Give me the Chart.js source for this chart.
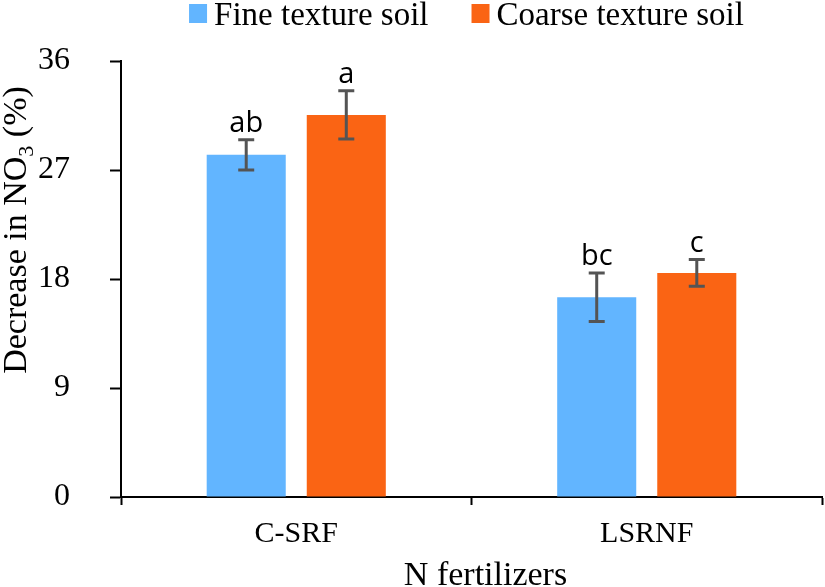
<!DOCTYPE html>
<html lang="en">
<head>
<meta charset="UTF-8">
<title>Decrease in NO3 by N fertilizer</title>
<script src="https://cdn.jsdelivr.net/npm/chart.js@4.4.0/dist/chart.umd.min.js"></script>
<style>
    html, body { margin: 0; padding: 0; background: #fff; }
    #wrap { width: 825px; height: 587px; position: relative; }
</style>
</head>
<body>
<div id="wrap"><canvas id="no3Chart"></canvas></div>
<script>
    // values
    const categories = ['C-SRF', 'LSRNF'];
    const seriesNames = ['Fine texture soil', 'Coarse texture soil'];
    const fineValues = [28.25, 16.5];
    const coarseValues = [31.55, 18.5];
    const fineErrors = [1.25, 2.0];
    const coarseErrors = [2.0, 1.1];
    const fineLetters = ['ab', 'bc'];
    const coarseLetters = ['a', 'c'];
    const yTicks = [0, 9, 18, 27, 36];
    const xTitle = 'N fertilizers';

    const SERIF = '"Liberation Serif", "Times New Roman", serif';
    const SANS = '"Open Sans", "Noto Sans", sans-serif';
    const colors = ['#62b5ff', '#fa6414'];
    const errorsBySeries = [fineErrors, coarseErrors];
    const lettersBySeries = [fineLetters, coarseLetters];

    // error bars + significance letters
    const errorBarPlugin = {
        id: 'errorBars',
        afterDatasetsDraw(chart) {
            const ctx = chart.ctx;
            const y = chart.scales.y;
            ctx.save();
            chart.data.datasets.forEach(function(ds, i) {
                const meta = chart.getDatasetMeta(i);
                meta.data.forEach(function(bar, j) {
                    const v = ds.data[j];
                    const e = errorsBySeries[i][j];
                    const top = y.getPixelForValue(v + e);
                    const bot = y.getPixelForValue(v - e);
                    ctx.strokeStyle = '#545454';
                    ctx.lineWidth = 3;
                    ctx.beginPath();
                    ctx.moveTo(bar.x, top);
                    ctx.lineTo(bar.x, bot);
                    ctx.moveTo(bar.x - 8, top);
                    ctx.lineTo(bar.x + 8, top);
                    ctx.moveTo(bar.x - 8, bot);
                    ctx.lineTo(bar.x + 8, bot);
                    ctx.stroke();

                    ctx.fillStyle = '#000';
                    ctx.font = '29px ' + SANS;
                    ctx.textAlign = 'center';
                    ctx.textBaseline = 'alphabetic';
                    ctx.fillText(lettersBySeries[i][j], bar.x, top - 8);
                });
            });
            ctx.restore();
        }
    };

    // legend, x title and y title (with subscript) drawn on the canvas
    const annotatePlugin = {
        id: 'annotate',
        afterDraw(chart) {
            const ctx = chart.ctx;
            const area = chart.chartArea;
            const mid = (area.left + area.right) / 2;
            ctx.save();

            // legend
            ctx.font = '33px ' + SERIF;
            ctx.textBaseline = 'alphabetic';
            ctx.textAlign = 'left';
            const box = 18, gap = 7, spacing = 43;
            const widths = chart.data.datasets.map(function(ds) {
                return box + gap + ctx.measureText(ds.label).width;
            });
            const total = widths.reduce(function(a, b) { return a + b; }, 0) + spacing * (widths.length - 1);
            let x = mid - 5 - total / 2;
            chart.data.datasets.forEach(function(ds, i) {
                ctx.fillStyle = ds.backgroundColor;
                ctx.fillRect(x, 4, box, box + 1);
                ctx.fillStyle = '#000';
                ctx.fillText(ds.label, x + box + gap, 25);
                x += widths[i] + spacing;
            });

            // x axis title
            ctx.font = '34px ' + SERIF;
            ctx.textAlign = 'center';
            ctx.fillText(xTitle, mid + 14, 585);

            // y axis title
            const big = '34px ' + SERIF, small = '22px ' + SERIF;
            const p1 = 'Decrease in NO', p2 = '3', p3 = ' (%)';
            ctx.textAlign = 'left';
            ctx.font = big;
            const w1 = ctx.measureText(p1).width, w3 = ctx.measureText(p3).width;
            ctx.font = small;
            const w2 = ctx.measureText(p2).width;
            const tw = w1 + w2 + w3;
            ctx.translate(26, 230);
            ctx.rotate(-Math.PI / 2);
            ctx.font = big;
            ctx.fillText(p1, -tw / 2, 0);
            ctx.font = small;
            ctx.fillText(p2, -tw / 2 + w1, 7);
            ctx.font = big;
            ctx.fillText(p3, -tw / 2 + w1 + w2, 0);
            ctx.restore();
        }
    };

    const ctx = document.getElementById('no3Chart').getContext('2d');
    new Chart(ctx, {
        type: 'bar',
        data: {
            labels: categories,
            datasets: [{
                label: seriesNames[0],
                data: fineValues,
                backgroundColor: colors[0],
                categoryPercentage: 0.571,
                barPercentage: 0.79
            }, {
                label: seriesNames[1],
                data: coarseValues,
                backgroundColor: colors[1],
                categoryPercentage: 0.571,
                barPercentage: 0.79
            }]
        },
        options: {
            responsive: true,
            maintainAspectRatio: false,
            animation: false,
            layout: { padding: { top: 61, right: 3, bottom: 0, left: 0 } },
            plugins: {
                legend: { display: false },
                tooltip: { enabled: false }
            },
            scales: {
                x: {
                    grid: { drawOnChartArea: false, tickLength: 8, tickWidth: 2, tickColor: '#000', offset: true },
                    border: { color: '#000', width: 2 },
                    ticks: { color: '#000', padding: 11, font: { family: SERIF, size: 30 } },
                    afterFit: function(scale) { scale.height = 90; }
                },
                y: {
                    min: 0,
                    max: 36,
                    afterBuildTicks: function(scale) {
                        scale.ticks = yTicks.map(function(v) { return { value: v }; });
                    },
                    grid: { drawOnChartArea: false, tickLength: 11, tickWidth: 2, tickColor: '#000' },
                    border: { color: '#000', width: 2 },
                    ticks: { color: '#000', padding: 40, font: { family: SERIF, size: 32 } },
                    afterFit: function(scale) { scale.width = 121; }
                }
            }
        },
        plugins: [errorBarPlugin, annotatePlugin]
    });
</script>
</body>
</html>
